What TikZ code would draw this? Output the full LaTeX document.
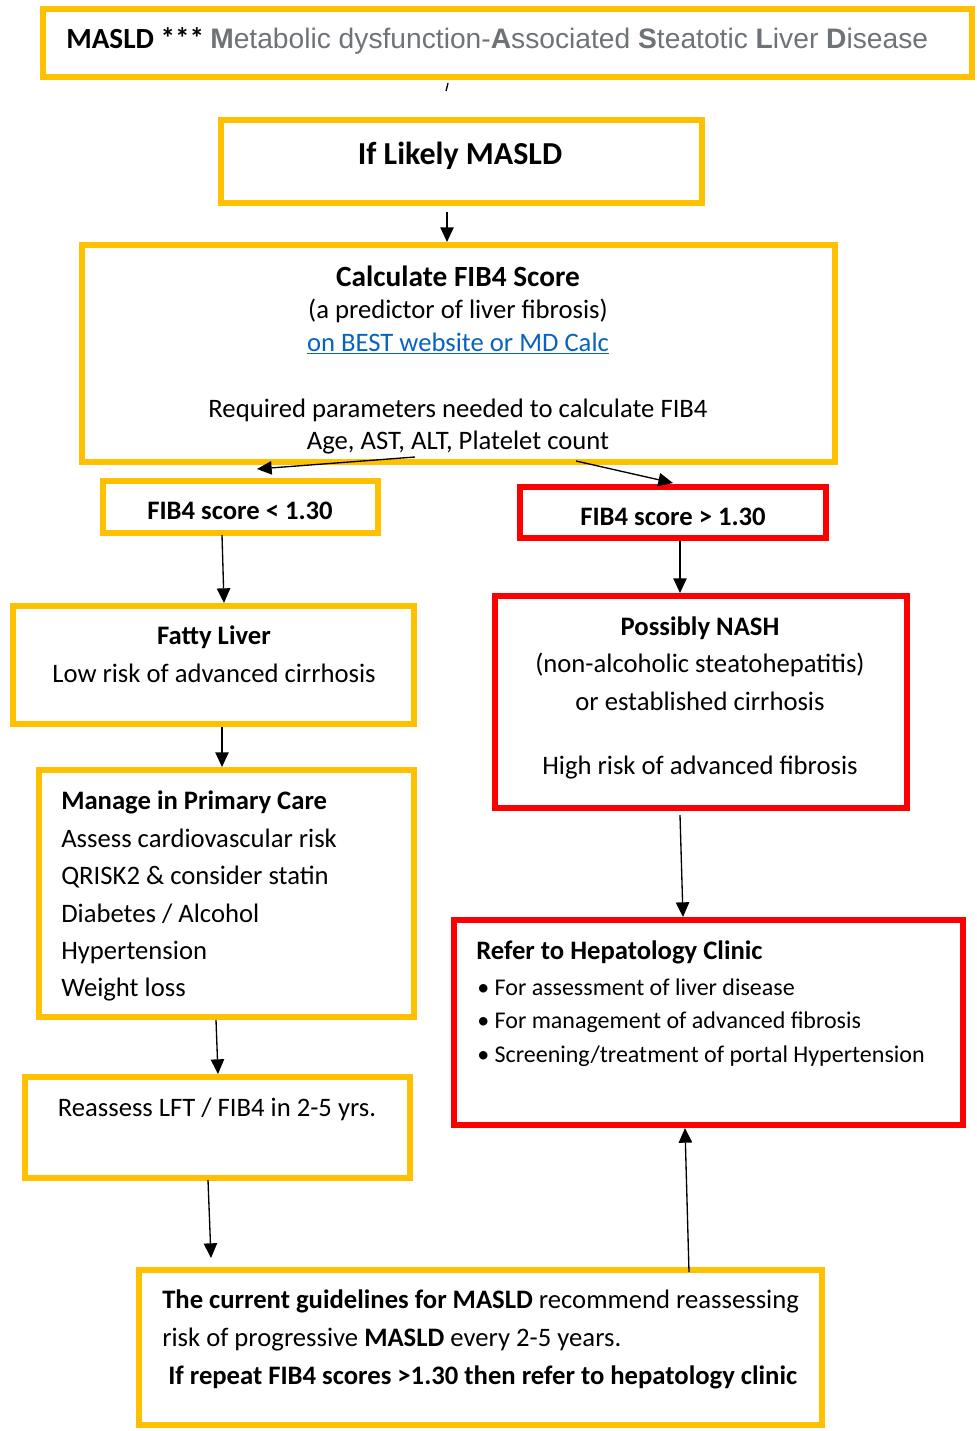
\documentclass[tikz,border=0pt]{standalone}
\usepackage{fontspec}
\setmainfont{Carlito}
\newfontfamily\arialf{Liberation Sans}
\usetikzlibrary{arrows.meta,fit,calc}
\definecolor{ybor}{HTML}{FFC000}
\definecolor{rbor}{HTML}{FF0000}
\definecolor{gtxt}{HTML}{6F7378}
\definecolor{lnk}{HTML}{0563C1}
\begin{document}
\begin{tikzpicture}[x=0.75pt,y=-0.75pt,
  ybox/.style={draw=ybor, line width=4.5pt, inner sep=0pt, outer sep=0pt},
  rbox/.style={draw=rbor, line width=4.5pt, inner sep=0pt, outer sep=0pt},
  conn/.style={line width=1pt, -{Triangle[length=11pt,width=10pt]}},
  plain/.style={line width=1pt},
  body/.style={font=\fontsize{20}{24}\selectfont, inner sep=0pt},
  bodyb/.style={font=\fontsize{20}{24}\selectfont\bfseries, inner sep=0pt},
  small/.style={font=\fontsize{18}{22}\selectfont, inner sep=0pt}]
\useasboundingbox (0,0) rectangle (977,1431);
% boxes
\path (43,9) coordinate (b0a) (972,77) coordinate (b0b)
      (221,120) coordinate (b1a) (702,203) coordinate (b1b)
      (82,245) coordinate (b2a) (835,462) coordinate (b2b)
      (103,481) coordinate (b3a) (378,533) coordinate (b3b)
      (520,487) coordinate (b4a) (826,538) coordinate (b4b)
      (13,606) coordinate (b5a) (414,724) coordinate (b5b)
      (495,596) coordinate (b6a) (907,808) coordinate (b6b)
      (39,770) coordinate (b7a) (414,1017) coordinate (b7b)
      (454,920) coordinate (b8a) (963,1125) coordinate (b8b)
      (25,1077) coordinate (b9a) (410,1178) coordinate (b9b)
      (139,1270) coordinate (b10a) (822,1425) coordinate (b10b);
\node[ybox, fit=(b0a)(b0b)] (b0) {};
\node[ybox, fit=(b1a)(b1b)] (b1) {};
\node[ybox, fit=(b2a)(b2b)] (b2) {};
\node[ybox, fit=(b3a)(b3b)] (b3) {};
\node[rbox, fit=(b4a)(b4b)] (b4) {};
\node[ybox, fit=(b5a)(b5b)] (b5) {};
\node[rbox, fit=(b6a)(b6b)] (b6) {};
\node[ybox, fit=(b7a)(b7b)] (b7) {};
\node[rbox, fit=(b8a)(b8b)] (b8) {};
\node[ybox, fit=(b9a)(b9b)] (b9) {};
\node[ybox, fit=(b10a)(b10b)] (b10) {};
% texts
\node[inner sep=0pt, anchor=mid west, font=\fontsize{21.9}{24}\selectfont\bfseries] (t0a) at (66,45) {MASLD ***};
\node[inner sep=0pt, anchor=mid west, font=\arialf\fontsize{21.15}{24}\selectfont, text=gtxt] (t0b) at (210,45)
  {\textbf{M}etabolic dysfunction-\textbf{A}ssociated \textbf{S}teatotic \textbf{L}iver \textbf{D}isease};
\node[inner sep=0pt, anchor=mid, font=\fontsize{24}{28}\selectfont\bfseries] (t1) at (460,161) {If Likely MASLD};
\node[inner sep=0pt, anchor=mid, font=\fontsize{22}{26}\selectfont\bfseries] (t2a) at (458,283) {Calculate FIB4 Score};
\node[body, anchor=mid] (t2b) at (458,315) {(a predictor of liver fibrosis)};
\node[body, anchor=mid, text=lnk] (t2c) at (458,348) {\underline{on BEST website or MD Calc}};
\node[body, anchor=mid] (t2d) at (458,414) {Required parameters needed to calculate FIB4};
\node[body, anchor=mid] (t2e) at (458,446) {Age, AST, ALT, Platelet count};
\node[bodyb, anchor=mid] (t3) at (240,516) {FIB4 score < 1.30};
\node[bodyb, anchor=mid] (t4) at (673,522) {FIB4 score > 1.30};
\node[bodyb, anchor=mid] (t5a) at (214,641) {Fatty Liver};
\node[body, anchor=mid] (t5b) at (214,679) {Low risk of advanced cirrhosis};
\node[bodyb, anchor=mid] (t6a) at (700,632) {Possibly NASH};
\node[body, anchor=mid] (t6b) at (700,669) {(non-alcoholic steatohepatitis)};
\node[body, anchor=mid] (t6c) at (700,707) {or established cirrhosis};
\node[body, anchor=mid] (t6d) at (700,771) {High risk of advanced fibrosis};
\node[bodyb, anchor=mid west] (t7a) at (61,806) {Manage in Primary Care};
\node[body, anchor=mid west] (t7b) at (61,844) {Assess cardiovascular risk};
\node[body, anchor=mid west] (t7c) at (61,881) {QRISK2 \& consider statin};
\node[body, anchor=mid west] (t7d) at (61,919) {Diabetes / Alcohol};
\node[body, anchor=mid west] (t7e) at (61,956) {Hypertension};
\node[body, anchor=mid west] (t7f) at (61,993) {Weight loss};
\node[bodyb, anchor=mid west] (t8a) at (476,956) {Refer to Hepatology Clinic};
\node[small, anchor=mid west] (t8b) at (477,992) {\textbullet{} For assessment of liver disease};
\node[small, anchor=mid west] (t8c) at (477,1025) {\textbullet{} For management of advanced fibrosis};
\node[small, anchor=mid west] (t8d) at (477,1059) {\textbullet{} Screening/treatment of portal Hypertension};
\node[body, anchor=mid] (t9) at (217,1113) {Reassess LFT / FIB4 in 2-5 yrs.};
\node[body, anchor=mid west] (t10a) at (162,1305) {\textbf{The current guidelines for MASLD} recommend reassessing};
\node[body, anchor=mid west] (t10b) at (162,1343) {risk of progressive \textbf{MASLD} every 2-5 years.};
\node[bodyb, anchor=mid west] (t10c) at (168,1381) {If repeat FIB4 scores >1.30 then refer to hepatology clinic};
% connectors
\draw[plain] ($(b0.south west)+(405,6)$) -- ($(b0.south west)+(403,14)$);
\draw[conn] ($(b1.south west)+(226,9)$) -- ($(b2.north west)+(365,-3)$);
\draw[conn] ($(b2.south west)+(333,-5)$) -- ($(b3.north west)+(154,-12)$);
\draw[conn] ($(b2.south west)+(494,-1)$) -- ($(b4.north west)+(153,-4)$);
\draw[conn] ($(b3.south west)+(119,2)$) -- ($(b5.north west)+(211,-3)$);
\draw[conn] ($(b4.south west)+(160,3)$) -- ($(b6.north west)+(185,-3)$);
\draw[conn] ($(b5.south west)+(209,3)$) -- ($(b7.north west)+(183,-3)$);
\draw[conn] ($(b6.south west)+(185,7)$) -- ($(b8.north west)+(229,-3)$);
\draw[conn] ($(b7.south west)+(177,3)$) -- ($(b9.north west)+(193,-3)$);
\draw[conn] ($(b9.south west)+(183,2)$) -- ($(b10.north west)+(72,-12)$);
\draw[conn] ($(b10.north west)+(550,2)$) -- ($(b8.south west)+(231,3)$);
\end{tikzpicture}
\end{document}
